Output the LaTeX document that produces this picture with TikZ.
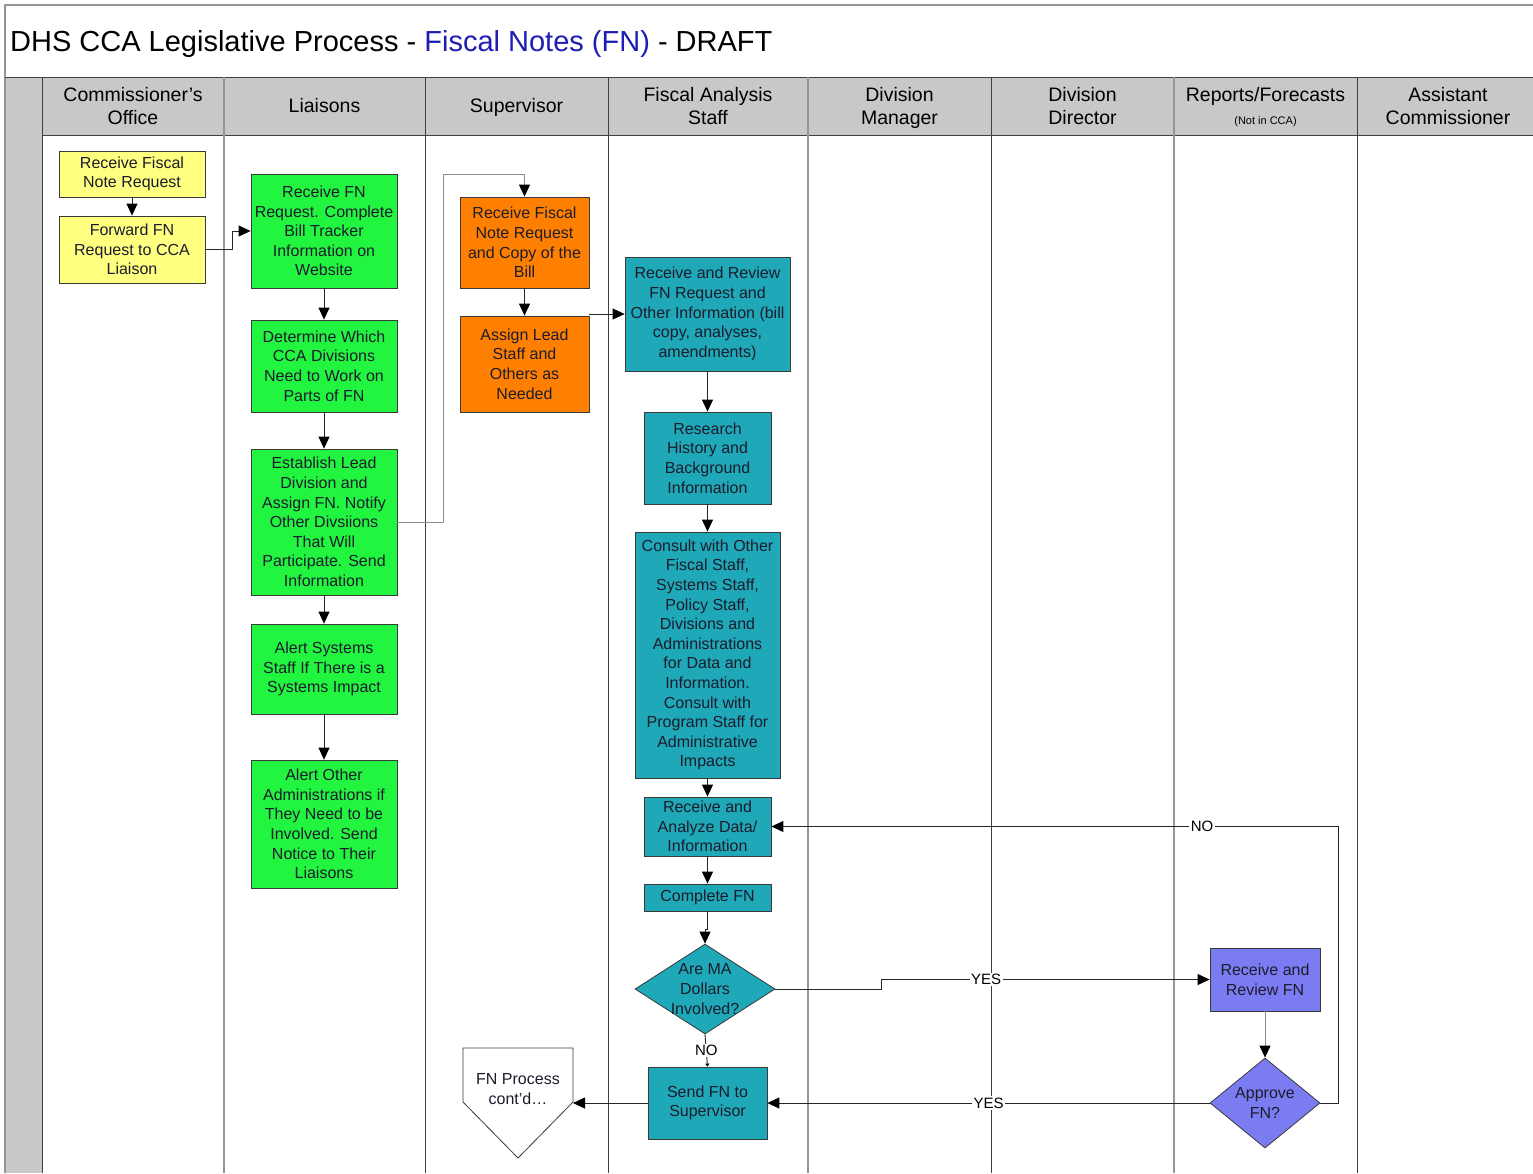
\documentclass[tikz,border=0pt]{standalone}
\usepackage{fontspec}
\setmainfont{Liberation Sans}
\usetikzlibrary{arrows.meta,shapes.geometric}

\definecolor{hdrgray}{HTML}{C8C8C8}
\definecolor{lanedark}{HTML}{404040}
\definecolor{lanelight}{HTML}{959595}
\definecolor{boxline}{HTML}{3A3A3A}
\definecolor{txtdark}{HTML}{1C1C2C}
\definecolor{fnblue}{HTML}{1E1EB4}
\definecolor{cyellow}{HTML}{FFFF80}
\definecolor{cgreen}{HTML}{22F540}
\definecolor{corange}{HTML}{FF8000}
\definecolor{cteal}{HTML}{1EA8B8}
\definecolor{cpurple}{HTML}{7C7CF2}

\newcommand{\boxfont}{\fontsize{16}{19.6}\selectfont}
\newcommand{\hdrfont}{\fontsize{19.5}{23}\selectfont}

\begin{document}
\begin{tikzpicture}[x=1pt,y=-1pt,
  stepbox/.style={draw=boxline, line width=0.8pt, inner sep=0pt, align=center,
                  font=\boxfont, text=txtdark},
  decision/.style={diamond, draw=boxline, line width=0.8pt, inner sep=0pt},
  insidetxt/.style={align=center, font=\boxfont, text=txtdark, inner sep=0pt},
  hdr/.style={align=center, font=\hdrfont, inner sep=0pt},
  flow/.style={draw=black!85, line width=0.9pt,
               -{Triangle[length=12pt,width=11pt,color=black]}},
  greyflow/.style={flow, draw=black!45},
  lbl/.style={fill=white, font=\fontsize{15}{17}\selectfont, inner sep=1.5pt}
]
\useasboundingbox (0,0) rectangle (1533,1173);
\fill[white] (0,0) rectangle (1533,1173);

% frame, header band and lanes
\fill[hdrgray] (5,77) rectangle (1533,135);
\fill[hdrgray] (5,135) rectangle (42,1173);
\draw[lanelight, line width=1.2pt] (1533,5) -- (5,5) -- (5,1173);
\draw[lanedark, line width=1pt] (5,77) -- (1533,77);
\draw[lanedark, line width=1pt] (42,135) -- (1533,135);
\foreach \x in {42,425,608,991,1357}
  \draw[lanedark, line width=1pt] (\x,77) -- (\x,1173);
\foreach \x in {224,808,1174}
  \draw[lanelight, line width=1.2pt] (\x,77) -- (\x,1173);

% title
\node[anchor=base west, inner sep=0pt, font=\fontsize{29}{34}\selectfont] (title) at (10,51)
  {DHS CCA Legislative Process - \textcolor{fnblue}{Fiscal Notes (FN)} - DRAFT};

% lane headers
\node[hdr] (h1) at (133,108) {\strut Commissioner’s\\Office\strut};
\node[hdr] (h2) at (324.5,108) {\strut Liaisons};
\node[hdr] (h3) at (516.5,108) {\strut Supervisor};
\node[hdr] (h4) at (708,108) {\strut Fiscal Analysis\\Staff\strut};
\node[hdr] (h5) at (899.5,108) {\strut Division\\Manager\strut};
\node[hdr] (h6) at (1082.5,108) {\strut Division\\Director\strut};
\node[hdr, anchor=base] (h7) at (1265.5,101) {Reports/Forecasts};
\node[inner sep=0pt, anchor=base, font=\fontsize{11}{13}\selectfont] (h7b) at (1265.5,124) {(Not in CCA)};
\node[hdr] (h8) at (1448,108) {\strut Assistant\\Commissioner\strut};

% Commissioner's Office
\node[stepbox, fill=cyellow, minimum width=146pt, minimum height=46pt] (c1) at (132,174)
  {Receive Fiscal\\Note Request};
\node[stepbox, fill=cyellow, minimum width=146pt, minimum height=67pt] (c2) at (132,249.5)
  {Forward FN\\Request to CCA\\Liaison};

% Liaisons
\node[stepbox, fill=cgreen, minimum width=146pt, minimum height=114pt] (l1) at (324,231)
  {Receive FN\\Request. Complete\\Bill Tracker\\Information on\\Website};
\node[stepbox, fill=cgreen, minimum width=146pt, minimum height=92pt] (l2) at (324,366)
  {Determine Which\\CCA Divisions\\Need to Work on\\Parts of FN};
\node[stepbox, fill=cgreen, minimum width=146pt, minimum height=146pt] (l3) at (324,522)
  {Establish Lead\\Division and\\Assign FN. Notify\\Other Divsiions\\That Will\\Participate. Send\\Information};
\node[stepbox, fill=cgreen, minimum width=146pt, minimum height=90pt] (l4) at (324,669)
  {Alert Systems\\Staff If There is a\\Systems Impact};
\node[stepbox, fill=cgreen, minimum width=146pt, minimum height=128pt] (l5) at (324,824)
  {Alert Other\\Administrations if\\They Need to be\\Involved. Send\\Notice to Their\\Liaisons};

% Supervisor
\node[stepbox, fill=corange, minimum width=129pt, minimum height=91pt] (s1) at (524.5,242.5)
  {Receive Fiscal\\Note Request\\and Copy of the\\Bill};
\node[stepbox, fill=corange, minimum width=129pt, minimum height=96pt] (s2) at (524.5,364)
  {Assign Lead\\Staff and\\Others as\\Needed};

% off-page continuation
\draw[boxline, line width=0.8pt, fill=white]
  (463,1048) -- (573,1048) -- (573,1102) -- (518,1158) -- (463,1102) -- cycle;
\node[insidetxt] (cont) at (518,1089) {FN Process\\cont’d…};
\coordinate (contE) at (573,1103);

% Fiscal Analysis Staff
\node[stepbox, fill=cteal, minimum width=165pt, minimum height=114pt] (f1) at (707.5,314)
  {Receive and Review\\FN Request and\\Other Information (bill\\copy, analyses,\\amendments)};
\node[stepbox, fill=cteal, minimum width=127pt, minimum height=92pt] (f2) at (707.5,458)
  {Research\\History and\\Background\\Information};
\node[stepbox, fill=cteal, minimum width=145pt, minimum height=246pt] (f3) at (707.5,655)
  {Consult with Other\\Fiscal Staff,\\Systems Staff,\\Policy Staff,\\Divisions and\\Administrations\\for Data and\\Information.\\Consult with\\Program Staff for\\Administrative\\Impacts};
\node[stepbox, fill=cteal, minimum width=127pt, minimum height=59pt] (f4) at (707.5,826.5)
  {Receive and\\Analyze Data/\\Information};
\node[stepbox, fill=cteal, minimum width=127pt, minimum height=27pt] (f5) at (707.5,897.5)
  {Complete FN};
\node[decision, fill=cteal, minimum width=140pt, minimum height=90pt] (d1) at (705,989) {};
\node[insidetxt] (d1t) at (d1.center) {Are MA\\Dollars\\Involved?};
\node[stepbox, fill=cteal, minimum width=119pt, minimum height=72pt] (f7) at (707.5,1103)
  {Send FN to\\Supervisor};

% Reports/Forecasts
\node[stepbox, fill=cpurple, minimum width=110pt, minimum height=63pt] (r1) at (1265,979.5)
  {Receive and\\Review FN};
\node[decision, fill=cpurple, minimum width=110pt, minimum height=90pt] (d2) at (1265,1103) {};
\node[insidetxt] (d2t) at (d2.center) {Approve\\FN?};

% connectors
\draw[flow] (c1) -- (c2);
\draw[flow] (c2.east) -- ++(27,0) |- (l1.west);
\draw[flow] (l1) -- (l2);
\draw[flow] (l2) -- (l3);
\draw[flow] (l3) -- (l4);
\draw[flow] (l4) -- (l5);
\draw[greyflow] (l3.east) -| (443,174) -| (s1.north);
\draw[flow] (s1) -- (s2);
\draw[flow] (f1.west -| s2.east) -- (f1.west);
\draw[flow] (f1) -- (f2);
\draw[flow] (f2) -- (f3);
\draw[flow] (f3) -- (f4);
\draw[flow] (f4) -- (f5);
\draw[flow] (f5.south) -- ++(0,18) -| (d1.north);
\draw[draw=black!85, line width=0.9pt, -{Triangle[length=3pt,width=4pt,color=black]}]
  (d1.south) -- node[lbl] (no1) {NO} (f7.north);
\draw[flow] (d1.east) -| (881,979.5) -- node[lbl, pos=0.32] (yes1) {YES} (r1.west);
\draw[greyflow] (r1) -- (d2);
\draw[flow] (d2.west) -- node[lbl, pos=0.5] (yes2) {YES} (f7.east);
\draw[flow] (d2.east) -| (1338,826.5) -- node[lbl, pos=0.24] (no2) {NO} (f4.east);
\draw[flow] (f7.west) -- (contE);
\end{tikzpicture}
\end{document}
